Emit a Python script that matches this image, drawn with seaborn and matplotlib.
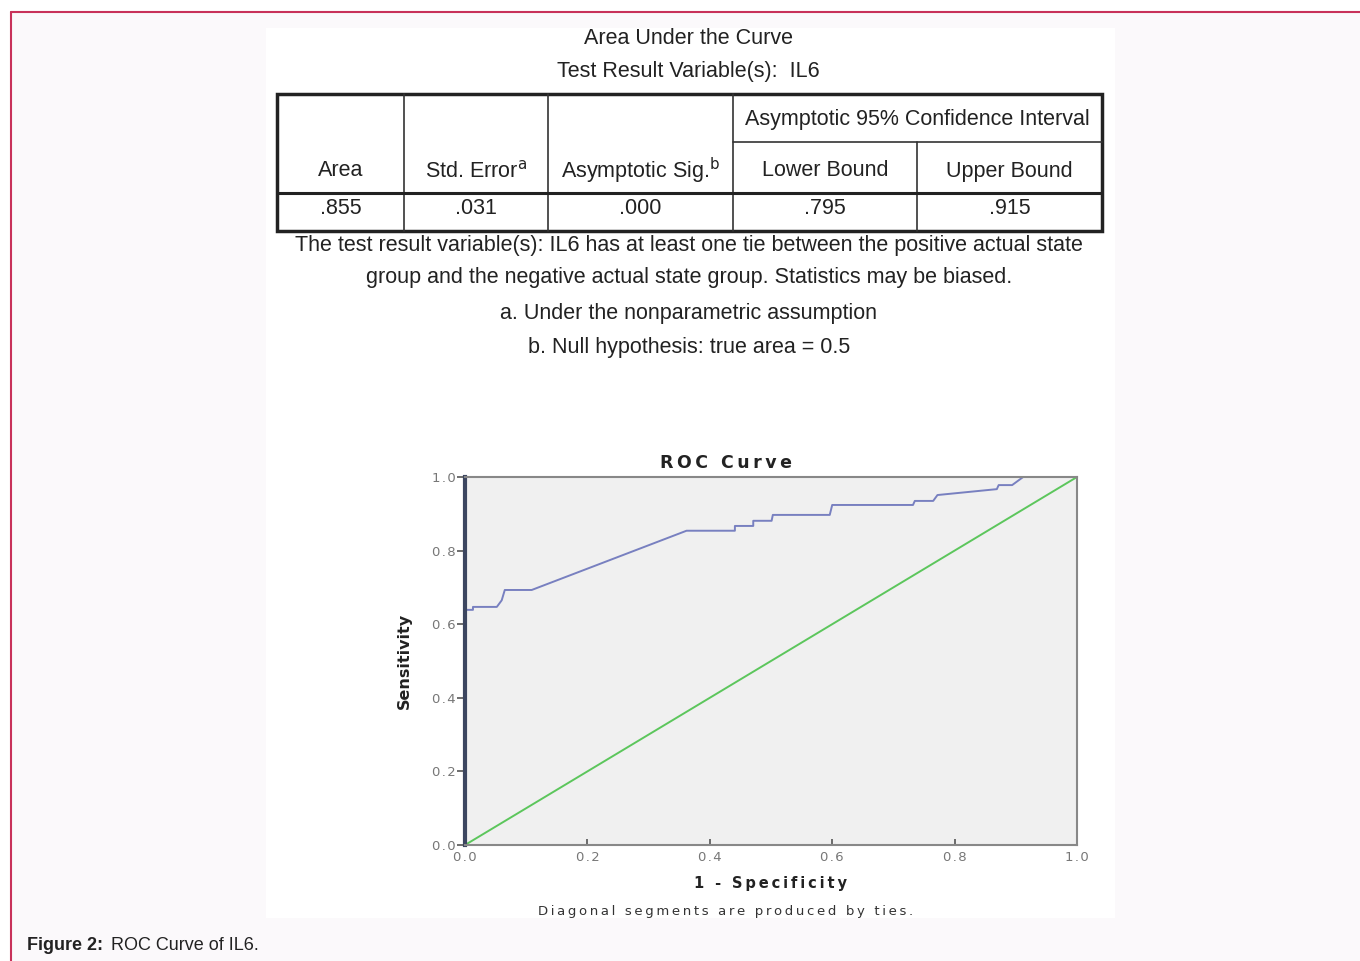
import matplotlib
matplotlib.use('Agg')
import matplotlib.pyplot as plt
from matplotlib.patches import Rectangle
import seaborn as sns
import pandas as pd

# ROC curve points (1 - specificity, sensitivity)
fpr = [0.0, 0.0, 0.013, 0.013, 0.052, 0.060, 0.065, 0.109, 0.362, 0.441, 0.441,
       0.471, 0.471, 0.501, 0.503, 0.596, 0.600, 0.732, 0.735, 0.765, 0.772,
       0.869, 0.872, 0.894, 0.912, 1.0]
tpr = [0.0, 0.639, 0.639, 0.647, 0.647, 0.665, 0.693, 0.693, 0.854, 0.854, 0.867,
       0.867, 0.881, 0.881, 0.897, 0.897, 0.924, 0.924, 0.935, 0.935, 0.951,
       0.967, 0.978, 0.978, 1.0, 1.0]
ref_x = [0.0, 1.0]
ref_y = [0.0, 1.0]

# AUC table
col_heads = ["Area", "Std. Error$^\\mathrm{a}$", "Asymptotic Sig.$^\\mathrm{b}$",
             "Lower Bound", "Upper Bound"]
group_head = "Asymptotic 95% Confidence Interval"
auc_values = [".855", ".031", ".000", ".795", ".915"]
notes = ["The test result variable(s): IL6 has at least one tie between the positive actual state",
         "group and the negative actual state group. Statistics may be biased.",
         "a. Under the nonparametric assumption",
         "b. Null hypothesis: true area = 0.5"]


def spaced(s, sep='\u2009'):
    """Fake the wide letter spacing of the SPSS chart."""
    return sep.join(s)


sns.set_style("white")
plt.rcParams['font.family'] = ['Liberation Sans', 'DejaVu Sans']

W, H = 1360, 961
fig = plt.figure(figsize=(13.6, 9.61), dpi=100)
fig.patch.set_facecolor('white')

# overlay in pixel coordinates for page, table and texts
ov = fig.add_axes([0, 0, 1, 1], zorder=0)
ov.set_xlim(0, W)
ov.set_ylim(H, 0)
ov.axis('off')

ov.add_patch(Rectangle((11, 12), W, H, facecolor='#fbf9fb', edgecolor='none'))
ov.plot([11, W], [12, 12], color='#c8325a', lw=1.5)
ov.plot([11, 11], [12, H], color='#c8325a', lw=1.5)
ov.add_patch(Rectangle((266, 28), 849, 890, facecolor='white', edgecolor='none'))

txt = dict(ha='center', va='center', fontsize=15.5, color='#222222')
ov.text(688, 38, "Area Under the Curve", **txt)
ov.text(688, 71, "Test Result Variable(s):  IL6", **txt)

# table lines
xs = [277, 404, 548, 733, 917, 1102]
top, mid, hdr, bot = 94, 142, 193, 231
ov.add_patch(Rectangle((277, top), 825, bot - top, fill=False, edgecolor='#222222', lw=2.5))
for x in xs[1:-1]:
    y0 = mid if x == 917 else top
    ov.plot([x, x], [y0, bot], color='#333333', lw=1.2)
ov.plot([733, 1102], [mid, mid], color='#333333', lw=1.2)
ov.plot([277, 1102], [hdr, hdr], color='#222222', lw=2.2)

ov.text(917, 120, group_head, **txt)
for i, (h, v) in enumerate(zip(col_heads, auc_values)):
    cx = (xs[i] + xs[i + 1]) / 2
    ov.text(cx, 171, h, **txt)
    ov.text(cx, 209, v, **txt)

for y, n in zip([245, 277, 313, 347], notes):
    ov.text(689, y, n, **txt)

ov.text(27, 945, "Figure 2:", ha='left', va='center', fontsize=13,
        fontweight='bold', color='#222222')
ov.text(111, 945, "ROC Curve of IL6.", ha='left', va='center', fontsize=13,
        color='#222222')

# ROC plot
ax = fig.add_axes([465 / W, 1 - 845 / H, 612 / W, 368 / H], zorder=1)
ax.set_facecolor('#f0f0f0')
roc = pd.DataFrame({'fpr': fpr, 'tpr': tpr})
ref = pd.DataFrame({'x': ref_x, 'y': ref_y})
sns.lineplot(data=ref, x='x', y='y', ax=ax, color='#5cc65c', lw=1.4,
             estimator=None, sort=False)
sns.lineplot(data=roc, x='fpr', y='tpr', ax=ax, color='#7880c0', lw=1.4,
             estimator=None, sort=False)
ax.set_xlim(0, 1)
ax.set_ylim(0, 1)
ticks = [0.0, 0.2, 0.4, 0.6, 0.8, 1.0]
ax.set_xticks(ticks)
ax.set_yticks(ticks)
ax.set_xticklabels([spaced("%.1f" % t, '\u200a') for t in ticks], family='DejaVu Sans',
                   fontsize=9.5, color='#777777')
ax.set_yticklabels([spaced("%.1f" % t, '\u200a') for t in ticks], family='DejaVu Sans',
                   fontsize=9.5, color='#777777')
ax.tick_params(axis='y', direction='out', length=6, width=1.2, color='#555555', pad=0.5, left=True)
ax.tick_params(axis='x', direction='in', length=4, width=1.2, color='#555555', pad=4, bottom=True)
for s in ['top', 'right', 'bottom']:
    ax.spines[s].set_color('#888888')
    ax.spines[s].set_linewidth(1.5)
ax.spines['left'].set_color('#3c4660')
ax.spines['left'].set_linewidth(3)

ax.text(0.427, 1.038, spaced("ROC Curve"), transform=ax.transAxes, ha='center', va='center',
        family='DejaVu Sans', fontweight='bold', fontsize=12.5, color='#222222')
ax.set_xlabel(spaced("1 - Specificity"), family='DejaVu Sans', fontweight='bold',
              fontsize=10.5, color='#222222', labelpad=9)
ax.set_ylabel("Sensitivity", family='DejaVu Sans', fontweight='bold', fontsize=11.5,
              color='#222222', labelpad=15)
ax.text(0.425, -0.18, spaced("Diagonal segments are produced by ties."), transform=ax.transAxes,
        ha='center', va='center', family='DejaVu Sans', fontsize=9.5, color='#333333')

fig.savefig('out.png', dpi=100)
